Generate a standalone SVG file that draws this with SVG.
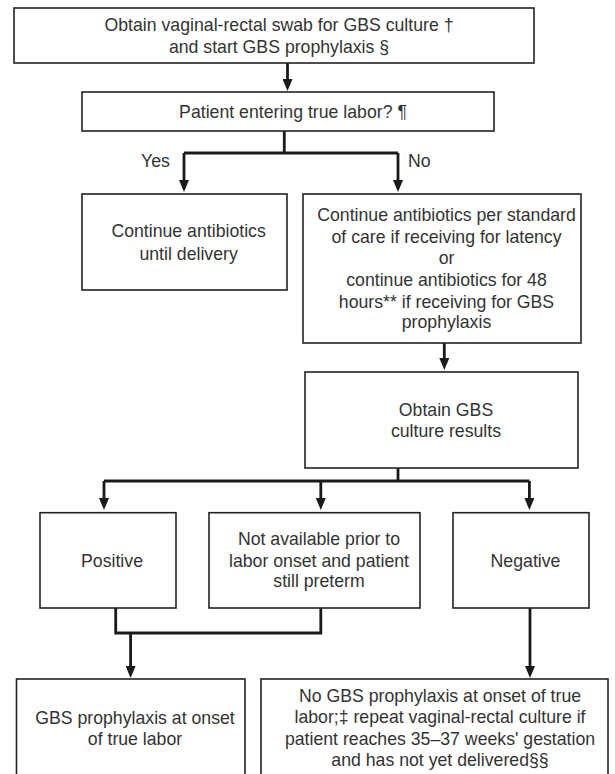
<svg xmlns="http://www.w3.org/2000/svg" width="615" height="774" viewBox="0 0 615 774">
  <defs>
    <style>
      .box { fill: #ffffff; stroke: #222222; stroke-width: 1.6; }
      .t { font-family: "Liberation Sans", Arial, sans-serif; font-size: 17.7px; fill: #333333; text-anchor: middle; }
      .lbl { font-family: "Liberation Sans", Arial, sans-serif; font-size: 17.7px; fill: #333333; }
      .wire { fill: none; stroke: #1a1a1a; stroke-width: 2.8; }
      .arrow { fill: none; stroke: #1a1a1a; stroke-width: 2.8; marker-end: url(#head); }
    </style>
    <marker id="head" viewBox="0 0 12 10" refX="0" refY="5" markerWidth="12" markerHeight="10" markerUnits="userSpaceOnUse" orient="auto">
      <path d="M0,0 L12,5 L0,10 z" fill="#1a1a1a"/>
    </marker>
  </defs>
  <rect width="615" height="774" fill="#ffffff"/>

  <!-- connectors -->
  <g id="connectors">
    <line class="arrow" x1="287.5" y1="63" x2="287.5" y2="79"/>
    <polyline class="wire" points="284.3,131 284.3,153"/>
    <polyline class="wire" points="184,153 398,153"/>
    <line class="arrow" x1="184" y1="153" x2="184" y2="180"/>
    <line class="arrow" x1="398" y1="153" x2="398" y2="180"/>
    <line class="arrow" x1="444.3" y1="343" x2="444.3" y2="358"/>
    <polyline class="wire" points="398,468 398,481"/>
    <polyline class="wire" points="104,481 529.4,481"/>
    <line class="arrow" x1="104" y1="481" x2="104" y2="498"/>
    <line class="arrow" x1="320.8" y1="481" x2="320.8" y2="498"/>
    <line class="arrow" x1="529.4" y1="481" x2="529.4" y2="498"/>
    <polyline class="wire" points="115.7,608 115.7,633 320.8,633 320.8,608"/>
    <line class="arrow" x1="130.6" y1="633" x2="130.6" y2="666"/>
    <line class="arrow" x1="530" y1="608" x2="530" y2="666"/>
    <text class="lbl" x="141" y="166.7">Yes</text>
    <text class="lbl" x="408" y="166.7">No</text>
  </g>

  <g id="swab">
    <rect class="box" x="14" y="8" width="520" height="55"/>
    <text class="t" x="279" y="30.7">Obtain vaginal-rectal swab for GBS culture †</text>
    <text class="t" x="279" y="52.7">and start GBS prophylaxis §</text>
  </g>

  <g id="labor">
    <rect class="box" x="82" y="92" width="412" height="39"/>
    <text class="t" x="293" y="118">Patient entering true labor? ¶</text>
  </g>

  <g id="continue-delivery">
    <rect class="box" x="82" y="194" width="205" height="96"/>
    <text class="t" x="188.6" y="237">Continue antibiotics</text>
    <text class="t" x="188.6" y="260">until delivery</text>
  </g>

  <g id="continue-latency">
    <rect class="box" x="303" y="194" width="278" height="149"/>
    <text class="t" x="446.5" y="220.7">Continue antibiotics per standard</text>
    <text class="t" x="446.5" y="242.7">of care if receiving for latency</text>
    <text class="t" x="446.5" y="264">or</text>
    <text class="t" x="446.5" y="285.7">continue antibiotics for 48</text>
    <text class="t" x="446.5" y="307.7">hours** if receiving for GBS</text>
    <text class="t" x="446.5" y="328.3">prophylaxis</text>
  </g>

  <g id="culture-results">
    <rect class="box" x="305" y="372" width="273" height="96"/>
    <text class="t" x="446" y="416">Obtain GBS</text>
    <text class="t" x="446" y="437">culture results</text>
  </g>

  <g id="positive">
    <rect class="box" x="40" y="512.7" width="136" height="95.3"/>
    <text class="t" x="112" y="567">Positive</text>
  </g>

  <g id="not-available">
    <rect class="box" x="209" y="512.7" width="211" height="95.3"/>
    <text class="t" x="319" y="545">Not available prior to</text>
    <text class="t" x="319" y="567">labor onset and patient</text>
    <text class="t" x="319" y="587">still preterm</text>
  </g>

  <g id="negative">
    <rect class="box" x="453" y="512.7" width="136" height="95.3"/>
    <text class="t" x="525.5" y="567">Negative</text>
  </g>

  <g id="prophylaxis-onset">
    <rect class="box" x="16.5" y="679" width="228.5" height="110"/>
    <text class="t" x="135" y="724">GBS prophylaxis at onset</text>
    <text class="t" x="135" y="745">of true labor</text>
  </g>

  <g id="no-prophylaxis">
    <rect class="box" x="261" y="679" width="347" height="110"/>
    <text class="t" x="440" y="701.7">No GBS prophylaxis at onset of true</text>
    <text class="t" x="440" y="723.3">labor;‡ repeat vaginal-rectal culture if</text>
    <text class="t" x="440" y="745">patient reaches 35–37 weeks' gestation</text>
    <text class="t" x="440" y="766">and has not yet delivered§§</text>
  </g>
</svg>
